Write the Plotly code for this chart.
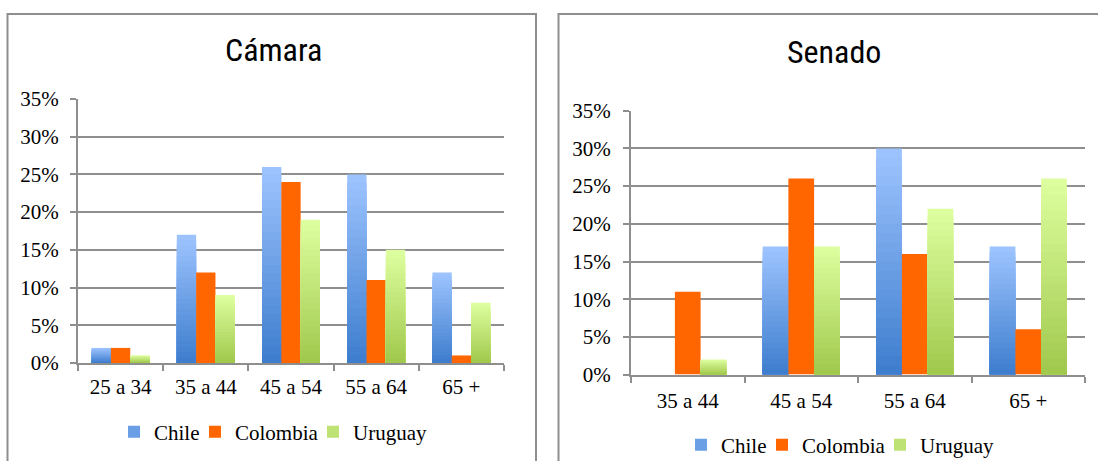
import plotly.graph_objects as go

# Age brackets and share of legislators in each (fractions of 1)
camara_groups = ["25 a 34", "35 a 44", "45 a 54", "55 a 64", "65 +"]
camara_chile = [0.02, 0.17, 0.26, 0.25, 0.12]
camara_colombia = [0.02, 0.12, 0.24, 0.11, 0.01]
camara_uruguay = [0.01, 0.09, 0.19, 0.15, 0.08]

senado_groups = ["35 a 44", "45 a 54", "55 a 64", "65 +"]
senado_chile = [0.00, 0.17, 0.30, 0.17]
senado_colombia = [0.11, 0.26, 0.16, 0.06]
senado_uruguay = [0.02, 0.17, 0.22, 0.26]

pct_ticks = [0.00, 0.05, 0.10, 0.15, 0.20, 0.25, 0.30, 0.35]
pct_labels = ["0%", "5%", "10%", "15%", "20%", "25%", "30%", "35%"]

panel_titles = ["Cámara", "Senado"]
series_names = ["Chile", "Colombia", "Uruguay"]

W, H = 1098, 461
SERIF = "Liberation Serif, Times New Roman, serif"
NARROW = "Liberation Sans Narrow, Arial Narrow, Roboto Condensed, Roboto, sans-serif"
GRID = "#8e8e8e"

# bottom colour, top colour of each series' vertical gradient
FILLS = {
    "Chile": ((61, 125, 205), (158, 196, 255)),
    "Colombia": ((255, 102, 0), (255, 102, 0)),
    "Uruguay": ((160, 200, 76), (222, 255, 160)),
}
# legend entry widths (px) so the entries sit close together
ENTRY_WIDTH = {"Chile": 36, "Colombia": 73, "Uruguay": 80}
LAYERS = 24


def px(x):
    return x / W


def py(y):
    return 1 - y / H


def mix(c0, c1, t):
    return "rgb(%d,%d,%d)" % tuple(round(a + (b - a) * t) for a, b in zip(c0, c1))


def add_series(fig, xref, yref, legend_id, cats, values, name):
    bottom, top = FILLS[name]
    n = LAYERS if bottom != top else 1
    # overlays of shrinking height give each bar a bottom-to-top gradient
    for k in range(n):
        frac = (n - k) / n
        color = mix(bottom, top, frac - 0.5 / n) if n > 1 else mix(bottom, top, 0)
        fig.add_trace(go.Bar(
            x=cats,
            y=[v * frac for v in values],
            name=name,
            offsetgroup=name,
            legendgroup=name + legend_id,
            legend=legend_id,
            legendwidth=ENTRY_WIDTH[name],
            showlegend=(k == n // 2),
            marker=dict(color=color, line=dict(width=0)),
            xaxis=xref, yaxis=yref,
            hoverinfo="skip" if k else "x+y+name",
        ))


fig = go.Figure()
panels = [
    ("x", "y", "legend", camara_groups, [camara_chile, camara_colombia, camara_uruguay]),
    ("x2", "y2", "legend2", senado_groups, [senado_chile, senado_colombia, senado_uruguay]),
]
for xref, yref, leg, cats, series in panels:
    for name, vals in zip(series_names, series):
        add_series(fig, xref, yref, leg, cats, vals, name)


def xaxis_style(standoff):
    return dict(
        type="category", showgrid=False, showline=True, linecolor=GRID, linewidth=2,
        ticks="outside", tickson="boundaries", ticklen=6, tickwidth=1.5, tickcolor=GRID,
        ticklabelstandoff=standoff,
        tickfont=dict(family=SERIF, size=21, color="black"), fixedrange=True,
    )


def yaxis_style(standoff):
    return dict(
        range=[0, 0.35], tickvals=pct_ticks, ticktext=pct_labels,
        showgrid=True, gridcolor=GRID, gridwidth=2, zeroline=False,
        showline=True, linecolor=GRID, linewidth=2,
        ticks="outside", ticklen=6, tickwidth=1.5, tickcolor=GRID,
        ticklabelstandoff=standoff,
        tickfont=dict(family=SERIF, size=21, color="black"), fixedrange=True,
    )


legend_style = dict(
    orientation="h", xanchor="center", yanchor="middle",
    font=dict(family=SERIF, size=21, color="black"),
    bgcolor="rgba(0,0,0,0)", borderwidth=0,
)

fig.update_layout(
    width=W, height=H, margin=dict(l=0, r=0, t=0, b=0, autoexpand=False),
    paper_bgcolor="white", plot_bgcolor="white",
    barmode="group", bargap=0.32, bargroupgap=0,
    xaxis=dict(domain=[px(78), px(504)], anchor="y", **xaxis_style(4)),
    yaxis=dict(domain=[py(363), py(99)], anchor="x", **yaxis_style(7)),
    xaxis2=dict(domain=[px(631), px(1085)], anchor="y2", **xaxis_style(6)),
    yaxis2=dict(domain=[py(374.6), py(110.7)], anchor="x2", **yaxis_style(8)),
    legend=dict(x=px(276), y=py(432), **legend_style),
    legend2=dict(x=px(843), y=py(445), **legend_style),
    showlegend=True,
    shapes=[
        dict(type="rect", xref="paper", yref="paper",
             x0=px(7.5), x1=px(536), y0=-0.05, y1=py(14),
             line=dict(color=GRID, width=2), fillcolor="rgba(0,0,0,0)", layer="below"),
        dict(type="rect", xref="paper", yref="paper",
             x0=px(558.5), x1=1.05, y0=-0.05, y1=py(14),
             line=dict(color=GRID, width=2), fillcolor="rgba(0,0,0,0)", layer="below"),
    ],
    annotations=[
        dict(text=panel_titles[0], x=px(273), y=py(50), xref="paper", yref="paper",
             xanchor="center", yanchor="middle", showarrow=False,
             font=dict(family=NARROW, size=32, color="black")),
        dict(text=panel_titles[1], x=px(834), y=py(52), xref="paper", yref="paper",
             xanchor="center", yanchor="middle", showarrow=False,
             font=dict(family=NARROW, size=32, color="black")),
    ],
)

fig.write_html("out.html")
